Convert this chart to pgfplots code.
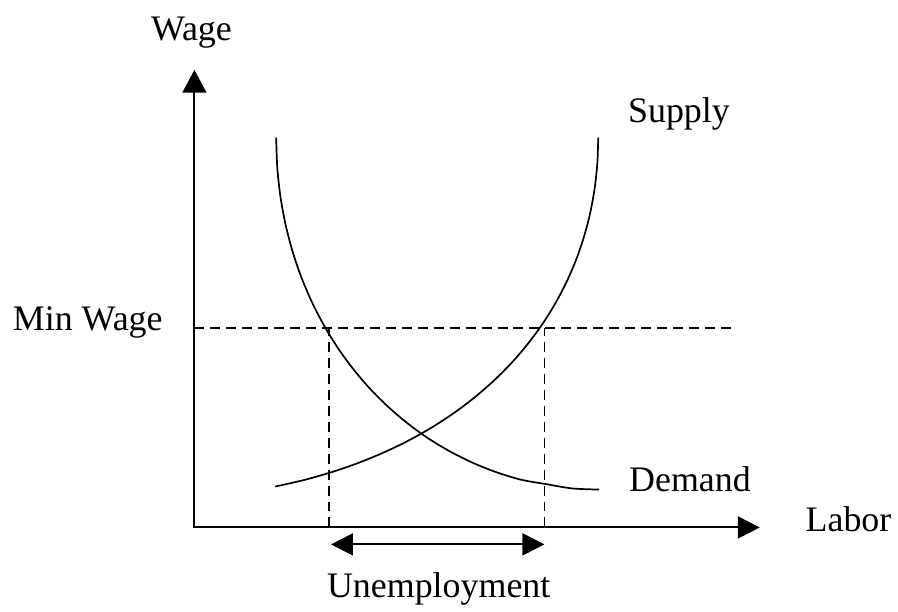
\documentclass[border=0pt]{standalone}
\usepackage{fontspec}
\setmainfont{Liberation Serif}
\usepackage{pgfplots}
\pgfplotsset{compat=1.18}
\usetikzlibrary{arrows.meta}

\newcommand{\lbl}{\fontsize{18}{21.6}\selectfont}

\begin{document}
\begin{tikzpicture}
\begin{axis}[
    width=449pt, height=304pt,
    scale only axis,
    xmin=-195, xmax=703,
    ymin=-79, ymax=529,
    hide axis,
    clip=false,
]
% frame that fixes the picture size
\addplot[draw=none] coordinates {(-195,-79) (703,529)};

% axes
\addplot[line width=1pt, {Triangle[length=11.5pt,width=12pt]}-{Triangle[length=11pt,width=11pt]}]
    coordinates {(0,459) (0,0) (567,0)};

% min wage and its quantities
\addplot[line width=0.75pt, dash pattern=on 5pt off 3pt] coordinates {(0,200) (541,200)};
\addplot[line width=0.75pt, dash pattern=on 5pt off 3pt] coordinates {(135,0) (135,200)};
\addplot[line width=0.75pt, dash pattern=on 5pt off 3pt] coordinates {(351,0) (351,200)};

% demand
\addplot[line width=0.85pt, smooth] coordinates {
    (82,391) (83.06,361.2) (86.19,332.3) (91.30,304.2) (98.32,277.1)
    (107.17,251.1) (117.78,226.1) (130.06,202.4) (143.92,179.9) (159.31,158.8)
    (176.13,139.1) (194.30,121.0) (213.76,104.4) (234.42,89.4) (256.20,76.3)
    (279.01,64.9) (302.80,55.4) (327.46,47.9) (352.95,43.4) (379.14,39.1) (406,38)
};
% supply
\addplot[line width=0.85pt, smooth] coordinates {
    (81,41) (110.43,47.7) (138.67,55.8) (165.70,65.2) (191.49,75.9)
    (216.0,87.8) (239.2,101.0) (261.0,115.3) (281.45,130.8) (300.45,147.4)
    (318.0,165.0) (334.04,183.7) (348.55,203.3) (361.48,223.9) (372.82,245.4)
    (382.5,267.7) (390.51,290.9) (396.8,314.8) (401.3,339.5) (404.07,364.9) (405,391)
};

% unemployment gap
\addplot[line width=1pt, {Triangle[length=11pt,width=11pt]}-{Triangle[length=11pt,width=11pt]}]
    coordinates {(137,-17) (351,-17)};

\node[anchor=base, font=\lbl] at (axis cs:-3,488) {Wage};
\node[anchor=base, font=\lbl] at (axis cs:656,-4) {Labor};
\node[anchor=base, font=\lbl] at (axis cs:-107,198) {Min Wage};
\node[anchor=base, font=\lbl] at (axis cs:486,406) {Supply};
\node[anchor=base, font=\lbl] at (axis cs:497,36) {Demand};
\node[anchor=base, font=\lbl] at (axis cs:245,-70) {Unemployment};
\end{axis}
\end{tikzpicture}
\end{document}
